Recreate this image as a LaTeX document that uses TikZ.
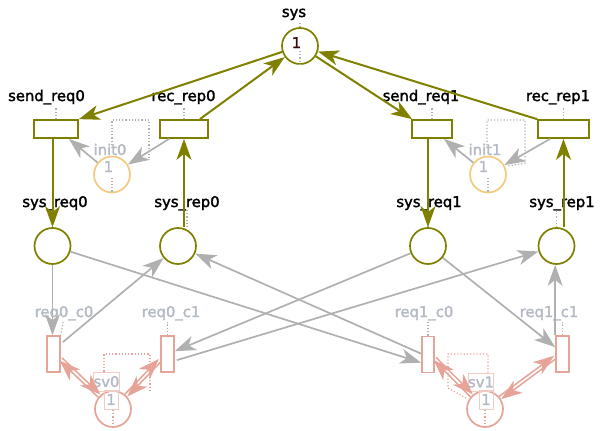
\documentclass[tikz,border=0pt]{standalone}
\usepackage{fontspec}
\setmainfont{DejaVu Sans}
\newfontfamily\pnfam{DejaVu Sans}[FakeBold=2]
\usetikzlibrary{arrows.meta}

\definecolor{olv}{HTML}{808000}
\definecolor{arcgray}{HTML}{B0B0B0}
\definecolor{txtgray}{HTML}{B4BAC4}
\definecolor{initc}{HTML}{F2CB80}
\definecolor{salm}{HTML}{E6A498}
\definecolor{salmlt}{HTML}{F2CCC4}
\definecolor{tokc}{HTML}{3A0A0A}

\newcommand\pnfont{\pnfam\fontsize{14.8pt}{18pt}\selectfont}

\tikzset{
  x=1pt, y=-1pt,
  place/.style={circle, draw, fill=white, line width=1.7pt, minimum size=36pt, inner sep=0pt},
  sysplace/.style={place, draw=olv},
  initplace/.style={place, draw=initc},
  svplace/.style={place, draw=salm},
  trans/.style={rectangle, draw, fill=white, line width=1.7pt, inner sep=0pt},
  systrans/.style={trans, draw=olv, minimum height=18pt},
  reqtrans/.style={trans, draw=salm, minimum width=13pt, minimum height=36pt},
  lbl/.style={anchor=base, font=\pnfont, inner sep=0pt},
  glbl/.style={lbl, text=txtgray},
  boxlbl/.style={font=\pnfont, text=txtgray, draw=salmlt, line width=1pt, inner sep=0pt},
  leader/.style={draw=arcgray, dotted, line width=1.2pt},
  sleader/.style={draw=salm, dotted, line width=1.2pt},
  tip/.style={-{Stealth[length=21pt,width=15pt,inset=6pt]}},
  olvarc/.style={tip, draw=olv, line width=2pt},
  grayarc/.style={tip, draw=arcgray, line width=1.7pt},
  salmarc/.style={tip, draw=salm, line width=1.5pt},
}

\begin{document}
\begin{tikzpicture}
\useasboundingbox (0,0) rectangle (600,431);

% ---- places and transitions ----
\node[sysplace] (sys) at (300,46) {};
\node[systrans, minimum width=44pt] (send_req0) at (56,129) {};
\node[systrans, minimum width=48pt] (rec_rep0) at (184,129) {};
\node[systrans, minimum width=40pt] (send_req1) at (432,129) {};
\node[systrans, minimum width=51pt] (rec_rep1) at (563.5,129) {};
\node[initplace] (init0) at (112,174.5) {};
\node[initplace] (init1) at (488,174.5) {};
\node[sysplace] (sys_req0) at (52.5,246) {};
\node[sysplace] (sys_rep0) at (178,246) {};
\node[sysplace] (sys_req1) at (428,246) {};
\node[sysplace] (sys_rep1) at (556.5,246) {};
\node[reqtrans] (req0_c0) at (53.5,354) {};
\node[reqtrans] (req0_c1) at (167.5,354) {};
\node[reqtrans, minimum width=12pt] (req1_c0) at (428,354.5) {};
\node[reqtrans] (req1_c1) at (562.5,354) {};
\node[svplace] (sv0) at (113,409) {};
\node[svplace] (sv1) at (485,409) {};

% ---- names ----
\node[lbl] (lsys) at (294,17) {sys};
\node[lbl] (lsr0) at (46.5,101) {send\_req0};
\node[lbl] (lrr0) at (183.5,101) {rec\_rep0};
\node[lbl] (lsr1) at (421,101) {send\_req1};
\node[lbl] (lrr1) at (558,101) {rec\_rep1};
\node[glbl] (linit0) at (110,155) {init0};
\node[glbl] (linit1) at (485,155) {init1};
\node[lbl] (lsq0) at (55,207) {sys\_req0};
\node[lbl] (lsp0) at (187,207) {sys\_rep0};
\node[lbl] (lsq1) at (429,207) {sys\_req1};
\node[lbl] (lsp1) at (562,207) {sys\_rep1};
\node[glbl] (lr00) at (64,317) {req0\_c0};
\node[glbl] (lr01) at (171,317) {req0\_c1};
\node[glbl] (lr10) at (424,317) {req1\_c0};
\node[glbl] (lr11) at (549,317) {req1\_c1};

% ---- tokens ----
\node[lbl, text=tokc] (tsys) at (296.5,48) {1};
\node[glbl] (tinit0) at (108.5,172) {1};
\node[glbl] (tinit1) at (483.5,172) {1};
\node[boxlbl, minimum width=25pt, minimum height=19pt] (lsv0) at (106.5,381.5) {sv0};
\node[boxlbl, minimum width=14pt, minimum height=19pt] (tsv0) at (111,399.5) {1};
\node[boxlbl, minimum width=24pt, minimum height=18pt] (lsv1) at (481,382) {sv1};
\node[boxlbl, minimum width=14pt, minimum height=19pt] (tsv1) at (486,399.5) {1};

% ---- dotted leaders ----
\draw[leader, shorten >=5pt] (sys.north) -- (sys.north |- lsys.base);
\draw[leader] ([yshift=-5pt]sys.center) -- (sys.south);
\draw[leader, shorten >=7pt] (send_req0.north) -- (send_req0.north |- lsr0.base);
\draw[leader, shorten >=7pt] (rec_rep0.north) -- (rec_rep0.north |- lrr0.base);
\draw[leader, shorten >=7pt] (send_req1.north) -- (send_req1.north |- lsr1.base);
\draw[leader, shorten >=7pt] (rec_rep1.north) -- (rec_rep1.north |- lrr1.base);
\draw[leader] ([yshift=-3pt]init0.center) -- (init0.south);
\draw[leader] ([yshift=-3pt]init1.center) -- (init1.south);
\draw[leader, shorten >=4pt] (sys_req0.north) -- (sys_req0.north |- lsq0.base);
\draw[leader, shorten <=3pt] (lsp0.base) -- (lsp0.base |- sys_rep0.north);
\draw[leader, shorten >=4pt] (sys_req1.north) -- (sys_req1.north |- lsq1.base);
\draw[leader, shorten >=4pt] (sys_rep1.north) -- (sys_rep1.north |- lsp1.base);
\draw[leader, shorten <=5pt] (lr00.base) -- (req0_c0.north east);
\draw[leader, shorten >=5pt] (req0_c1.north) -- (req0_c1.north |- lr01.base);
\draw[leader, shorten >=5pt] (req1_c0.north) -- (req1_c0.north |- lr10.base);
\draw[leader, shorten >=5pt] (req1_c1.north) -- (req1_c1.north |- lr11.base);
\draw[sleader] ([yshift=-1pt]sv0.center) -- (sv0.south);
\draw[sleader] ([yshift=-1pt]sv1.center) -- (sv1.south);

% dotted guides above the init places
\draw[leader] (112,145) -- (112,120) -- (149,120) -- (149,158);
\draw[leader] (487,145) -- (487,120) -- (525,120) -- (525,163) -- (508,166);
% dotted guides above the server places
\draw[sleader] (lsv0.north -| 104,0) -- (104,354) -- (150,354) -- (150,392);
\draw[sleader] (lsv1.north -| 488,0) -- (488,354) -- (448,354) -- (448,388) -- (466,398);

% ---- arcs of the system net ----
\draw[olvarc] (sys) -- (send_req0.north east);
\draw[olvarc] ([xshift=-9pt]rec_rep0.north east) -- (sys);
\draw[olvarc] (sys) -- ([xshift=1pt]send_req1.north west);
\draw[olvarc] (rec_rep1.north west) -- (sys);
\draw[olvarc] (send_req0.south -| sys_req0.north) -- (sys_req0.north);
\draw[olvarc] (rec_rep0.south |- sys_rep0.north) -- (rec_rep0.south);
\draw[olvarc] (send_req1.south -| sys_req1.north) -- (sys_req1.north);
\draw[olvarc] (rec_rep1.south |- sys_rep1.north) -- (rec_rep1.south);

% ---- arcs of the init places ----
\draw[grayarc] (init0) -- ([xshift=-10pt]send_req0.south east);
\draw[grayarc] ([xshift=10pt]rec_rep0.south west) -- (init0);
\draw[grayarc] (init1) -- ([xshift=-9pt]send_req1.south east);
\draw[grayarc] ([xshift=13pt]rec_rep1.south west) -- (init1);

% ---- arcs between clients and servers ----
\draw[grayarc] (sys_req0.south) -- (sys_req0.south |- req0_c0.north);
\draw[grayarc] ([shift={(2pt,-7pt)}]req0_c0.north east) -- (sys_rep0);
\draw[grayarc] (sys_req0) -- ([yshift=-27pt]req1_c0.north west);
\draw[grayarc] ([yshift=-18pt]req1_c0.north west) -- (sys_rep0);
\draw[grayarc] (sys_req1) -- ([yshift=-16pt]req0_c1.north east);
\draw[grayarc] ([shift={(2pt,-25pt)}]req0_c1.north east) -- (sys_rep1);
\draw[grayarc] (sys_req1) -- ([yshift=-12pt]req1_c1.north west);
\draw[grayarc] (req1_c1.north west) -- (req1_c1.north west |- sys_rep1.south);

% ---- server read arcs (one each way) ----
\draw[salmarc, transform canvas={shift={(1.2pt,1.3pt)}}] ([yshift=-24pt]req0_c0.north east) -- (sv0);
\draw[salmarc, transform canvas={shift={(-1.2pt,-1.3pt)}}] (sv0) -- ([yshift=-24pt]req0_c0.north east);
\draw[salmarc, transform canvas={shift={(1.2pt,-1.2pt)}}] ([yshift=-25pt]req0_c1.north west) -- (sv0);
\draw[salmarc, transform canvas={shift={(-1.2pt,1.2pt)}}] (sv0) -- ([yshift=-25pt]req0_c1.north west);
\draw[salmarc, transform canvas={shift={(1.2pt,1.3pt)}}] ([yshift=-23pt]req1_c0.north east) -- (sv1);
\draw[salmarc, transform canvas={shift={(-1.2pt,-1.3pt)}}] (sv1) -- ([yshift=-23pt]req1_c0.north east);
\draw[salmarc, transform canvas={shift={(1pt,-1.4pt)}}] ([yshift=-22pt]req1_c1.north west) -- (sv1);
\draw[salmarc, transform canvas={shift={(-1pt,1.4pt)}}] (sv1) -- ([yshift=-22pt]req1_c1.north west);
\end{tikzpicture}
\end{document}
